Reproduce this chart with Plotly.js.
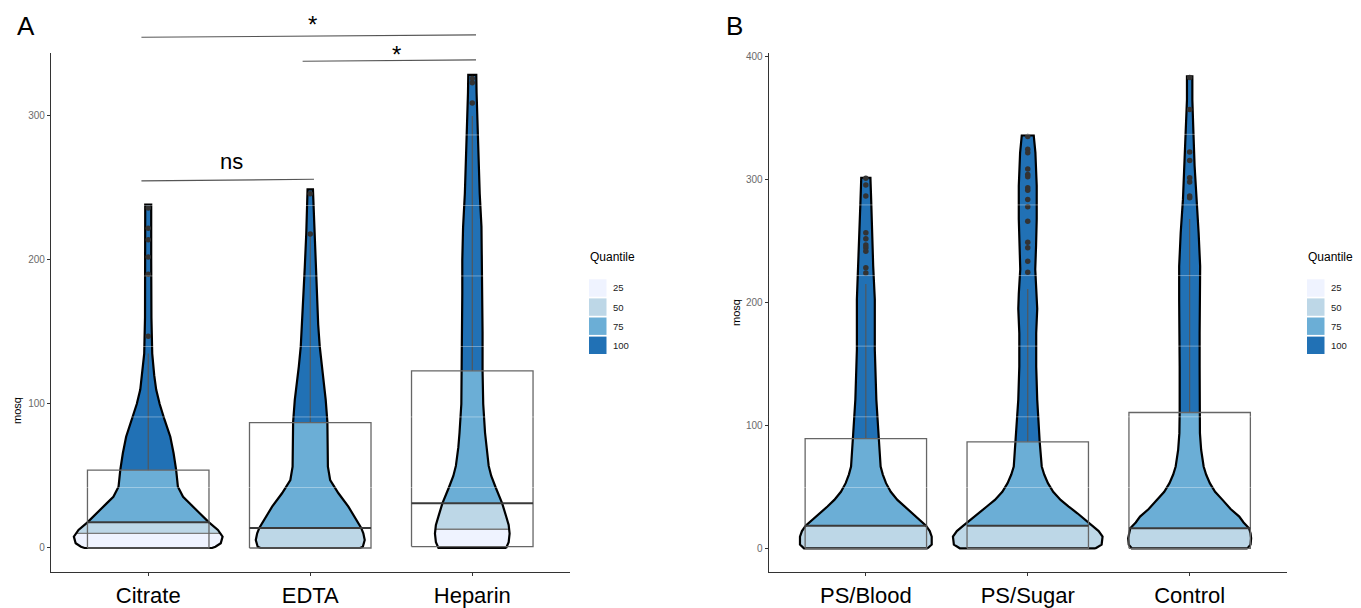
<!DOCTYPE html>
<html><head><meta charset="utf-8">
<script src="https://cdn.plot.ly/plotly-3.0.1.min.js"></script>
<style>html,body{margin:0;padding:0;background:#fff}#chart{width:1361px;height:608px}</style>
</head><body><div id="chart"></div>
<script>
// ---------------- data ----------------
const groupsA = ['Citrate', 'EDTA', 'Heparin'];
const groupsB = ['PS/Blood', 'PS/Sugar', 'Control'];
const quantileLabels = ['25', '50', '75', '100'];
const quantileColors = ['#EFF3FF', '#BDD7E7', '#6BAED6', '#2171B5'];
const yTicksA = [0, 100, 200, 300];
const yTicksB = [0, 100, 200, 300, 400];

// violin density profiles (mosq level, relative density)
const citrateY = [0, 0.9, 3.3, 7.9, 12.5, 17.6, 24.1, 31, 35.6, 42.6, 54.2, 65.8, 77.3, 88.9, 100, 110, 120, 135, 160, 200, 225, 238.5];
const citrateD = [0.874, 0.922, 0.995, 1.02, 0.956, 0.837, 0.706, 0.57, 0.478, 0.407, 0.383, 0.348, 0.303, 0.225, 0.157, 0.109, 0.082, 0.055, 0.044, 0.041, 0.041, 0.041];
const edtaY = [0, 0.9, 5.6, 10.2, 14.1, 19.4, 28.7, 38, 47.2, 56.5, 68, 87.5, 102.8, 115, 126, 140, 155, 172, 195, 218, 240, 249];
const edtaD = [0.683, 0.721, 0.747, 0.728, 0.697, 0.638, 0.523, 0.387, 0.273, 0.242, 0.239, 0.235, 0.212, 0.184, 0.157, 0.13, 0.109, 0.096, 0.075, 0.055, 0.041, 0.037];
const heparinY = [0, 4, 10, 16, 22, 31, 42, 50, 57, 70, 80, 100, 123, 150, 177, 200, 223, 246, 269, 293, 316, 328.5];
const heparinD = [0.464, 0.499, 0.512, 0.499, 0.464, 0.41, 0.321, 0.26, 0.225, 0.191, 0.175, 0.15, 0.141, 0.141, 0.137, 0.137, 0.126, 0.102, 0.086, 0.071, 0.059, 0.055];
const bloodY = [0, 3, 9.5, 14, 18.4, 23, 28.5, 34, 39.4, 46, 53, 60, 66.6, 89.3, 121, 161.6, 202.4, 229.5, 256.7, 283.9, 301.5];
const bloodD = [0.849, 0.904, 0.904, 0.877, 0.826, 0.74, 0.636, 0.527, 0.433, 0.342, 0.277, 0.233, 0.203, 0.178, 0.144, 0.123, 0.123, 0.101, 0.092, 0.073, 0.063];
const sugarY = [0, 3, 9.5, 14, 18.4, 23, 28.5, 34, 39.4, 46, 53, 60, 66.6, 86.6, 121, 148, 175, 195, 207, 227, 246, 268, 295, 322, 336];
const sugarD = [0.932, 1.014, 1.027, 0.973, 0.884, 0.795, 0.681, 0.562, 0.451, 0.349, 0.277, 0.226, 0.192, 0.164, 0.13, 0.116, 0.116, 0.13, 0.123, 0.103, 0.114, 0.123, 0.123, 0.105, 0.082];
const controlY = [0, 3, 8.2, 12, 16.3, 21, 25.8, 32, 39.4, 46, 53, 60, 66.6, 80, 93.7, 110.5, 148, 175, 202, 229.5, 256.7, 283.9, 311, 338, 365, 384];
const controlD = [0.795, 0.836, 0.844, 0.836, 0.815, 0.74, 0.681, 0.562, 0.451, 0.349, 0.277, 0.226, 0.192, 0.158, 0.141, 0.137, 0.137, 0.137, 0.144, 0.144, 0.123, 0.092, 0.068, 0.052, 0.037, 0.037];

// quantile boundaries (25%, 50%, 75%) per group
const quantA = [[10.2, 17.8, 54], [0, 13.9, 87], [13, 31, 123]];
const quantB = [[0, 18.4, 89.3], [0, 18.4, 86.6], [0, 16.3, 110.5]];

// box summaries
const boxLowA = [0, 0, 1], boxMedA = [17.8, 13.9, 31], boxHighA = [54, 87, 123], fenceA = [135, 217, 300];
const boxLowB = [0, 0, 0], boxMedB = [18.4, 18.4, 16.3], boxHighB = [89.3, 86.6, 110.5], fenceB = [215, 211, 268];

// outliers
const outCitrate = [236, 222, 214, 202, 190, 147];
const outEDTA = [246, 218];
const outHeparin = [326, 323, 309];
const outBlood = [301, 295.5, 286.6, 256.7, 251.8, 246.7, 244.5, 241.7, 228.2, 224.1];
const outSugar = [335, 324.6, 321.9, 308.7, 304.2, 302.3, 293.4, 291.4, 283.9, 278, 266.2, 249, 244.5, 233.6, 224.6];
const outControl = [383, 357.1, 322.4, 315.6, 301.5, 298, 286.6, 285.3];

// significance comparisons (panel A)
const sigX = [[-0.042, 2.023], [0.953, 2.023], [-0.042, 1.023]];
const sigY = [[354.6, 356.3], [338.0, 338.9], [254.9, 256.0]];
const sigLabels = ['*', '*', 'ns'];
const sigTextX = [1.011, 1.535, 0.517];
const sigTextY = [367.8, 347, 268.2];

// faint horizontal guide lines seen over the violins
const guideA = [286.8, 237.8, 188.9, 139.9, 91, 42];
const guideB = [336.8, 279.4, 221.9, 164.5, 107, 49.5];

// ---------------- layout constants ----------------
const W = 1361, H = 608;
const FONT = '"Liberation Sans", Arial, Helvetica, sans-serif';
const xRange = [-0.6, 2.6];
const domA = [51 / W, 569.5 / W];
const domB = [768.7 / W, 1286.8 / W];
const domY = [1 - 572 / H, 1 - 53 / H];
const yRangeA = [-16.67, 343.7];
const yRangeB = [-19.28, 403.0];
const HALF = 0.45;     // max violin half width
const BOXW = 0.375;    // half box width

function interp(Y, D, y) {
  if (y <= Y[0]) return D[0];
  for (let i = 1; i < Y.length; i++) {
    if (y <= Y[i]) { const t = (y - Y[i - 1]) / (Y[i] - Y[i - 1]); return D[i - 1] + t * (D[i] - D[i - 1]); }
  }
  return D[D.length - 1];
}
function poly(xc, Y, D, a, b) {
  const ys = [a, ...Y.filter(v => v > a && v < b), b];
  const xs = [], yy = [];
  ys.forEach(y => { xs.push(xc + interp(Y, D, y) * HALF); yy.push(y); });
  for (let i = ys.length - 1; i >= 0; i--) { xs.push(xc - interp(Y, D, ys[i]) * HALF); yy.push(ys[i]); }
  xs.push(xs[0]); yy.push(yy[0]);
  return { xs, yy };
}
const traces = [];
function panel(xa, ya, profiles, quant, lows, meds, highs, fences, outs) {
  profiles.forEach((p, i) => {
    const Y = p[0], D = p[1];
    const bounds = [Y[0], ...quant[i], Y[Y.length - 1]];
    for (let k = 0; k < 4; k++) {
      if (bounds[k + 1] <= bounds[k]) continue;
      const g = poly(i, Y, D, bounds[k], bounds[k + 1]);
      traces.push({ type: 'scatter', mode: 'lines', x: g.xs, y: g.yy, xaxis: xa, yaxis: ya, fill: 'toself',
        fillcolor: quantileColors[k], line: { width: 0 }, hoverinfo: 'skip', showlegend: false });
    }
  });
  // 25% quantile lines
  const qx = [], qy = [];
  profiles.forEach((p, i) => {
    const q = quant[i][0];
    if (q > p[0][0]) { const hw = interp(p[0], p[1], q) * HALF; qx.push(i - hw, i + hw, null); qy.push(q, q, null); }
  });
  traces.push({ type: 'scatter', mode: 'lines', x: qx, y: qy, xaxis: xa, yaxis: ya, line: { color: '#7a7a7a', width: 1.3 }, hoverinfo: 'skip', showlegend: false });
  // outlines
  profiles.forEach((p, i) => {
    const g = poly(i, p[0], p[1], p[0][0], p[0][p[0].length - 1]);
    traces.push({ type: 'scatter', mode: 'lines', x: g.xs, y: g.yy, xaxis: xa, yaxis: ya,
      line: { color: '#000', width: 2.2 }, hoverinfo: 'skip', showlegend: false });
  });
  // boxes
  const bx = [], by = [], wx = [], wy = [], mx = [], my = [];
  lows.forEach((lo, i) => {
    bx.push(i - BOXW, i + BOXW, i + BOXW, i - BOXW, i - BOXW, null);
    by.push(lo, lo, highs[i], highs[i], lo, null);
    wx.push(i, i, null); wy.push(highs[i], fences[i], null);
    mx.push(i - BOXW, i + BOXW, null); my.push(meds[i], meds[i], null);
  });
  traces.push({ type: 'scatter', mode: 'lines', x: wx, y: wy, xaxis: xa, yaxis: ya, line: { color: '#555', width: 1.1 }, hoverinfo: 'skip', showlegend: false });
  traces.push({ type: 'scatter', mode: 'lines', x: bx, y: by, xaxis: xa, yaxis: ya, line: { color: '#666', width: 1.3 }, hoverinfo: 'skip', showlegend: false });
  traces.push({ type: 'scatter', mode: 'lines', x: mx, y: my, xaxis: xa, yaxis: ya, line: { color: '#3a3a3a', width: 2 }, hoverinfo: 'skip', showlegend: false });
  // outliers
  const ox = [], oy = [];
  outs.forEach((arr, i) => arr.forEach(v => { ox.push(i); oy.push(v); }));
  traces.push({ type: 'scatter', mode: 'markers', x: ox, y: oy, xaxis: xa, yaxis: ya, marker: { color: '#333', size: 5.5 }, hoverinfo: 'skip', showlegend: false });
}
panel('x', 'y', [[citrateY, citrateD], [edtaY, edtaD], [heparinY, heparinD]], quantA, boxLowA, boxMedA, boxHighA, fenceA, [outCitrate, outEDTA, outHeparin]);
panel('x2', 'y2', [[bloodY, bloodD], [sugarY, sugarD], [controlY, controlD]], quantB, boxLowB, boxMedB, boxHighB, fenceB, [outBlood, outSugar, outControl]);

// ---------------- helpers for paper coords ----------------
const toPX = (dom, rng, v) => dom[0] + (v - rng[0]) / (rng[1] - rng[0]) * (dom[1] - dom[0]);
const shapes = [], annotations = [];

// faint guide lines
guideA.forEach(v => shapes.push({ type: 'line', xref: 'x', yref: 'y', x0: -0.6, x1: 2.6, y0: v, y1: v, layer: 'above', line: { color: 'rgba(255,255,255,0.35)', width: 1 } }));
guideB.forEach(v => shapes.push({ type: 'line', xref: 'x2', yref: 'y2', x0: -0.6, x1: 2.6, y0: v, y1: v, layer: 'above', line: { color: 'rgba(255,255,255,0.35)', width: 1 } }));

// significance bars
sigX.forEach((xx, i) => {
  shapes.push({ type: 'line', xref: 'paper', yref: 'paper', layer: 'above',
    x0: toPX(domA, xRange, xx[0]), x1: toPX(domA, xRange, xx[1]),
    y0: toPX(domY, yRangeA, sigY[i][0]), y1: toPX(domY, yRangeA, sigY[i][1]),
    line: { color: '#555', width: 1.1 } });
  annotations.push({ xref: 'paper', yref: 'paper', x: toPX(domA, xRange, sigTextX[i]), y: toPX(domY, yRangeA, sigTextY[i]),
    text: sigLabels[i], showarrow: false, xanchor: 'center', yanchor: 'middle', yshift: sigLabels[i] === '*' ? -6 : 0,
    font: { family: FONT, size: sigLabels[i] === '*' ? 24 : 22, color: '#000' } });
});

// panel letters
annotations.push({ xref: 'paper', yref: 'paper', x: 25.5 / W, y: 1 - 26 / H, text: 'A', showarrow: false, xanchor: 'center', yanchor: 'middle', font: { family: FONT, size: 26, color: '#000' } });
annotations.push({ xref: 'paper', yref: 'paper', x: 734.5 / W, y: 1 - 26 / H, text: 'B', showarrow: false, xanchor: 'center', yanchor: 'middle', font: { family: FONT, size: 26, color: '#000' } });

// y axis titles
annotations.push({ xref: 'paper', yref: 'paper', x: 17 / W, y: 1 - 411 / H, text: 'mosq', textangle: -90, showarrow: false, xanchor: 'center', yanchor: 'middle', font: { family: FONT, size: 11, color: '#000' } });
annotations.push({ xref: 'paper', yref: 'paper', x: 736 / W, y: 1 - 313 / H, text: 'mosq', textangle: -90, showarrow: false, xanchor: 'center', yanchor: 'middle', font: { family: FONT, size: 11, color: '#000' } });

// legends (manual)
function legend(left) {
  annotations.push({ xref: 'paper', yref: 'paper', x: left / W, y: 1 - 257 / H, text: 'Quantile', showarrow: false, xanchor: 'left', yanchor: 'middle', font: { family: FONT, size: 12, color: '#000' } });
  quantileLabels.forEach((lab, k) => {
    const top = 279.3 + k * 19.1;
    shapes.push({ type: 'rect', xref: 'paper', yref: 'paper', x0: (left + 1) / W, x1: (left + 18.5) / W, y0: 1 - top / H, y1: 1 - (top + 17.4) / H, fillcolor: quantileColors[k], line: { width: 0 } });
    annotations.push({ xref: 'paper', yref: 'paper', x: (left + 22.5) / W, y: 1 - (top + 8.7) / H, text: lab, showarrow: false, xanchor: 'left', yanchor: 'middle', font: { family: FONT, size: 9.5, color: '#222' } });
  });
}
legend(588);
legend(1306);

const axisX = (dom, labels, standoff) => ({ domain: dom, range: xRange, tickmode: 'array', tickvals: labels.map((_, i) => i), ticktext: labels,
  showline: true, linecolor: '#333', linewidth: 1.1, ticks: 'outside', ticklen: 3, tickcolor: '#333', showgrid: false, zeroline: false,
  ticklabelstandoff: standoff, tickfont: { family: FONT, size: 22, color: '#000' }, fixedrange: true });
const axisY = (rng, ticks, anchor) => ({ domain: domY, range: rng, anchor: anchor, tickmode: 'array', tickvals: ticks, ticktext: ticks.map(String),
  showline: true, linecolor: '#333', linewidth: 1.1, ticks: 'outside', ticklen: 3, tickcolor: '#333', showgrid: false, zeroline: false,
  tickfont: { family: FONT, size: 10, color: '#6a6a6a' }, fixedrange: true });

const layout = {
  width: W, height: H, autosize: false, margin: { l: 0, r: 0, t: 0, b: 0 },
  paper_bgcolor: '#fff', plot_bgcolor: '#fff', showlegend: false,
  xaxis: Object.assign(axisX(domA, groupsA, 0), { anchor: 'y' }),
  yaxis: axisY(yRangeA, yTicksA, 'x'),
  xaxis2: Object.assign(axisX(domB, groupsB, 0), { anchor: 'y2' }),
  yaxis2: axisY(yRangeB, yTicksB, 'x2'),
  shapes: shapes, annotations: annotations
};
Plotly.newPlot('chart', traces, layout, { displayModeBar: false, staticPlot: true });
</script>
</body></html>
